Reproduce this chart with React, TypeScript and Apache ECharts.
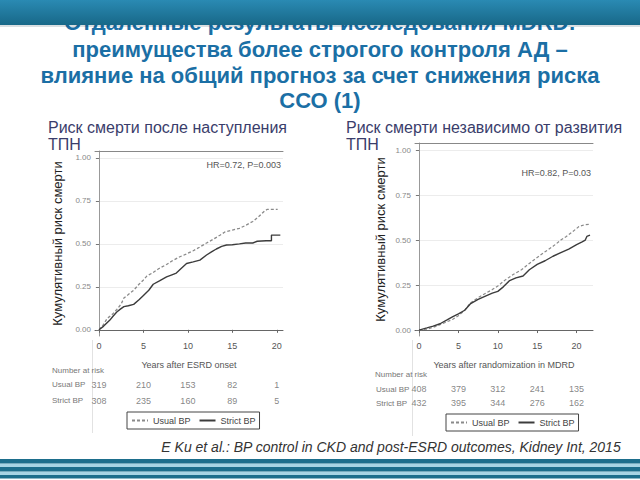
import React, { useEffect, useRef } from "react";
import * as echarts from "echarts";

// ---- data ----
const riskTimes = [0, 5, 10, 15, 20];
const leftUsualRisk = [319, 210, 153, 82, 1];
const leftStrictRisk = [308, 235, 160, 89, 5];
const rightUsualRisk = [408, 379, 312, 241, 135];
const rightStrictRisk = [432, 395, 344, 276, 162];

const leftUsual: number[][] = [
  [0, 0], [0.5, 0.03], [0.9, 0.065], [1.5, 0.09], [2.0, 0.118], [2.5, 0.15], [2.8, 0.185],
  [3.3, 0.205], [3.9, 0.23], [4.5, 0.265], [5.0, 0.29], [5.4, 0.314], [6.0, 0.33], [6.7, 0.355],
  [7.6, 0.38], [8.2, 0.4], [9.1, 0.425], [9.8, 0.44], [10.6, 0.46], [11.3, 0.48], [12.1, 0.505],
  [12.8, 0.525], [13.6, 0.55], [14.2, 0.57], [15.0, 0.58], [15.8, 0.59], [16.4, 0.605],
  [17.3, 0.63], [18.0, 0.66], [18.6, 0.69], [18.9, 0.7], [20.1, 0.7],
];
const leftStrict: number[][] = [
  [0, 0], [0.5, 0.02], [1.2, 0.055], [1.6, 0.08], [2.0, 0.104], [2.4, 0.12], [2.8, 0.135],
  [3.3, 0.14], [3.9, 0.148], [4.5, 0.175], [5.0, 0.2], [5.6, 0.23], [6.1, 0.265], [6.8, 0.285],
  [7.6, 0.308], [8.2, 0.32], [8.7, 0.33], [9.3, 0.36], [9.85, 0.386], [10.6, 0.395],
  [11.35, 0.405], [12.1, 0.435], [12.7, 0.455], [13.2, 0.47], [13.8, 0.485], [14.35, 0.493],
  [15.0, 0.495], [15.8, 0.5], [16.5, 0.505], [17.3, 0.505], [17.8, 0.515], [18.8, 0.518],
  [19.4, 0.518], [19.4, 0.551], [20.4, 0.551],
];
const rightUsual: number[][] = [
  [0, 0], [1, 0.005], [1.8, 0.015], [2.67, 0.03], [3.5, 0.045], [4.3, 0.06], [5, 0.08],
  [5.8, 0.11], [6.5, 0.15], [7.5, 0.18], [8.5, 0.205], [9.3, 0.225], [10, 0.245], [11, 0.28],
  [12, 0.31], [13, 0.335], [14, 0.37], [14.9, 0.4], [16, 0.435], [17, 0.465], [18, 0.5],
  [18.7, 0.52], [19.6, 0.55], [20.3, 0.575], [21, 0.585], [21.7, 0.587],
];
const rightStrict: number[][] = [
  [0, 0], [1, 0.012], [1.8, 0.022], [2.67, 0.035], [3.5, 0.055], [4.3, 0.075], [5, 0.09],
  [5.8, 0.11], [6.5, 0.145], [7.5, 0.17], [8.5, 0.19], [9.3, 0.205], [10, 0.215], [10.7, 0.24],
  [11.5, 0.275], [12.3, 0.29], [13.2, 0.3], [14, 0.335], [15, 0.365], [16, 0.385], [17, 0.41],
  [18, 0.43], [19, 0.45], [20, 0.475], [20.7, 0.49], [21.1, 0.5], [21.3, 0.52], [21.7, 0.527],
];
const yTicks = [0, 0.25, 0.5, 0.75, 1];
const rowNames = ["Usual BP", "Strict BP"];

const SANS = '"Liberation Sans", Arial, sans-serif';

function riskData(u: number[], s: number[]) {
  const out: any[] = [];
  riskTimes.forEach((t, i) => {
    out.push([t, 0, u[i]]);
    out.push([t, 1, s[i]]);
  });
  return out;
}

function plotAxes(gi: number, xmin: number, xmax: number, ymin: number, ymax: number, xname: string, nameGap: number) {
  const xa = [
    {
      type: "value", gridIndex: gi, min: xmin, max: xmax, name: xname,
      nameLocation: "middle", nameGap: 24,
      nameTextStyle: { fontFamily: SANS, fontSize: 9, color: "#555" },
      axisLine: { lineStyle: { color: "#666", width: 1 } },
      axisTick: { customValues: riskTimes, length: 3, lineStyle: { color: "#666" } },
      axisLabel: { customValues: riskTimes, fontFamily: SANS, fontSize: 9, color: "#555", margin: 5 },
      splitLine: { show: false },
    },
    {
      type: "value", gridIndex: gi, position: "top", min: xmin, max: xmax,
      axisLine: { lineStyle: { color: "#888", width: 1 } },
      axisTick: { show: false }, axisLabel: { show: false }, splitLine: { show: false },
    },
  ];
  const ya = {
    type: "value", gridIndex: gi, min: ymin, max: ymax,
    name: "Кумулятивный риск смерти", nameLocation: "middle", nameGap, nameRotate: 90,
    nameTextStyle: { fontFamily: SANS, fontSize: 13, color: "#222" },
    axisLine: { show: true, lineStyle: { color: "#999", width: 1 } },
    axisTick: { show: true, customValues: yTicks, length: 3, lineStyle: { color: "#777" } },
    axisLabel: {
      customValues: yTicks, fontFamily: SANS, fontSize: 8, color: "#888", margin: 4,
      formatter: (v: number) => v.toFixed(2),
    },
    splitLine: { show: true, lineStyle: { color: "#ececec", width: 1 } },
  };
  return { xa, ya };
}

export default function App() {
  const ref = useRef<HTMLDivElement>(null);
  useEffect(() => {
    const chart = echarts.init(ref.current!, null, { renderer: "svg" });
    const L = plotAxes(0, -0.45, 20.7, -0.036, 1.04, "Years after ESRD onset", 31);
    const R = plotAxes(1, -0.51, 22.08, -0.033, 1.039, "Years after randomization in MDRD", 28);

    const tableX = (gi: number, min: number, max: number) => ({
      type: "value", gridIndex: gi, min, max, show: false,
    });
    const tableY = (gi: number) => ({
      type: "category", gridIndex: gi, data: rowNames, inverse: true,
      axisLine: { show: false }, axisTick: { show: false },
      axisLabel: { align: "left", margin: gi === 2 ? 43 : 39, fontFamily: SANS, fontSize: 8, color: "#777" },
    });

    const legendCommon = {
      data: ["Usual BP", "Strict BP"],
      orient: "horizontal",
      borderColor: "#444", borderWidth: 1, padding: [4, 4, 4, 4],
      itemWidth: 16, itemHeight: 10, itemGap: 8,
      itemStyle: { color: "transparent", borderColor: "transparent", borderWidth: 0 },
      textStyle: { fontFamily: SANS, fontSize: 9, color: "#444" },
      selectedMode: false,
    };

    const titleFont = `bold 22px ${SANS}`;
    const titleText = (text: string, y: number) => ({
      type: "text", x: 320, y, z: 10,
      style: { text, align: "center", verticalAlign: "middle", font: titleFont, fill: "#1b6fa5" },
    });

    chart.setOption({
      animation: false,
      backgroundColor: "#ffffff",
      grid: [
        { left: 95, top: 151, width: 188, height: 185 },
        { left: 415, top: 143, width: 178, height: 193 },
        { left: 95, top: 377, width: 188, height: 31.4 },
        { left: 415, top: 382.3, width: 178, height: 28 },
      ],
      xAxis: [...L.xa, ...R.xa, tableX(2, -0.45, 20.7), tableX(3, -0.51, 22.08)],
      yAxis: [L.ya, R.ya, tableY(2), tableY(3)],
      legend: [
        { ...legendCommon, left: 127, top: 412 },
        { ...legendCommon, left: 446, top: 414 },
      ],
      series: [
        { name: "Usual BP", type: "line", xAxisIndex: 0, yAxisIndex: 0, data: leftUsual, showSymbol: false, symbol: "none",
          lineStyle: { color: "#8a8a8a", width: 1.3, type: [3, 2] }, itemStyle: { color: "#8a8a8a" } },
        { name: "Strict BP", type: "line", xAxisIndex: 0, yAxisIndex: 0, data: leftStrict, showSymbol: false, symbol: "none",
          lineStyle: { color: "#3c3c3c", width: 1.4 }, itemStyle: { color: "#3c3c3c" } },
        { name: "Usual BP", type: "line", xAxisIndex: 2, yAxisIndex: 1, data: rightUsual, showSymbol: false, symbol: "none",
          lineStyle: { color: "#8a8a8a", width: 1.2, type: [3, 2] }, itemStyle: { color: "#8a8a8a" } },
        { name: "Strict BP", type: "line", xAxisIndex: 2, yAxisIndex: 1, data: rightStrict, showSymbol: false, symbol: "none",
          lineStyle: { color: "#3c3c3c", width: 1.4 }, itemStyle: { color: "#3c3c3c" } },
        { type: "scatter", xAxisIndex: 4, yAxisIndex: 2, data: riskData(leftUsualRisk, leftStrictRisk), symbolSize: 0,
          label: { show: true, position: "inside", formatter: (p: any) => String(p.value[2]), fontFamily: SANS, fontSize: 9, color: "#666" } },
        { type: "scatter", xAxisIndex: 5, yAxisIndex: 3, data: riskData(rightUsualRisk, rightStrictRisk), symbolSize: 0,
          label: { show: true, position: "inside", formatter: (p: any) => String(p.value[2]), fontFamily: SANS, fontSize: 9, color: "#666" } },
      ],
      graphic: [
        // image edges
        { type: "line", shape: { x1: 92.5, y1: 340, x2: 92.5, y2: 433 }, style: { stroke: "#e2e2e2", lineWidth: 1 }, z: 1 },
        { type: "line", shape: { x1: 412.5, y1: 340, x2: 412.5, y2: 436 }, style: { stroke: "#e2e2e2", lineWidth: 1 }, z: 1 },
        // title
        titleText("Отдаленные результаты исследования MDRD:", 22),
        { type: "rect", shape: { x: 0, y: 0, width: 640, height: 25 }, z: 20,
          style: { fill: new echarts.graphic.LinearGradient(0, 0, 0, 1, [{ offset: 0, color: "#2a8ab3" }, { offset: 1, color: "#186888" }]) } },
        { type: "rect", shape: { x: 0, y: 25, width: 640, height: 2 }, z: 19, style: { fill: "rgba(0,40,60,0.15)" } },
        titleText("преимущества более строгого контроля АД –", 49),
        titleText("влияние на общий прогноз за счет снижения риска", 75),
        titleText("ССО (1)", 100),
        // subtitles
        { type: "text", x: 48, y: 127, z: 10, style: { text: "Риск смерти после наступления", verticalAlign: "middle", font: `16px ${SANS}`, fill: "#3a3d6b" } },
        { type: "text", x: 48, y: 144, z: 10, style: { text: "ТПН", verticalAlign: "middle", font: `16px ${SANS}`, fill: "#3a3d6b" } },
        { type: "text", x: 346, y: 127, z: 10, style: { text: "Риск смерти независимо от развития", verticalAlign: "middle", font: `16px ${SANS}`, fill: "#3a3d6b" } },
        { type: "text", x: 346, y: 144, z: 10, style: { text: "ТПН", verticalAlign: "middle", font: `16px ${SANS}`, fill: "#3a3d6b" } },
        // HR annotations
        { type: "text", x: 281, y: 165, z: 10, style: { text: "HR=0.72, P=0.003", align: "right", verticalAlign: "middle", font: `9px ${SANS}`, fill: "#555" } },
        { type: "text", x: 591, y: 173, z: 10, style: { text: "HR=0.82, P=0.03", align: "right", verticalAlign: "middle", font: `9px ${SANS}`, fill: "#555" } },
        // number at risk
        { type: "text", x: 52, y: 370.5, z: 10, style: { text: "Number at risk", verticalAlign: "middle", font: `8px ${SANS}`, fill: "#777" } },
        { type: "text", x: 375, y: 374, z: 10, style: { text: "Number at risk", verticalAlign: "middle", font: `8px ${SANS}`, fill: "#777" } },
        // citation
        { type: "text", x: 391, y: 447, z: 10, style: { text: "E Ku et al.: BP control in CKD and post-ESRD outcomes, Kidney Int, 2015", align: "center", verticalAlign: "middle", font: `italic 14px ${SANS}`, fill: "#333" } },
        // bottom stripes
        { type: "rect", shape: { x: 0, y: 459, width: 640, height: 4.5 }, z: 5, style: { fill: "#1d6e8c" } },
        { type: "rect", shape: { x: 0, y: 467, width: 640, height: 4.5 }, z: 5, style: { fill: "#1d6e8c" } },
        { type: "rect", shape: { x: 0, y: 475, width: 640, height: 3.5 }, z: 5, style: { fill: "#1d6e8c" } },
        { type: "rect", shape: { x: 0, y: 463.5, width: 640, height: 3.5 }, z: 4, style: { fill: "#a8d4e4" } },
        { type: "rect", shape: { x: 0, y: 471.5, width: 640, height: 3.5 }, z: 4, style: { fill: "#a8d4e4" } },
      ],
    });
    return () => chart.dispose();
  }, []);
  return <div ref={ref} style={{ position: "absolute", left: 0, top: 0, width: 640, height: 480 }} />;
}
